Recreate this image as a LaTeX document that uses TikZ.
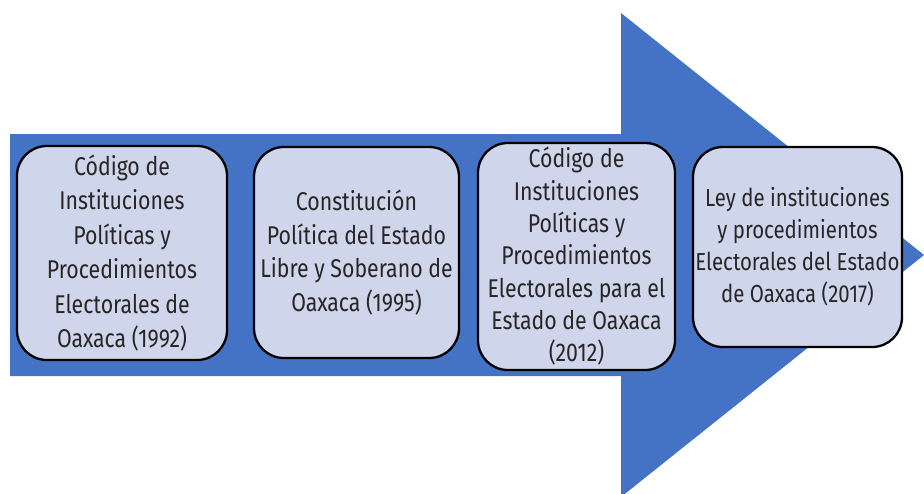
\documentclass[tikz,border=0pt]{standalone}
\usepackage{fontspec}
\setmainfont[FakeStretch=0.83]{Fira Sans}
\usepackage{tikz}
\definecolor{arrowblue}{HTML}{4472C4}
\definecolor{boxfill}{HTML}{CFD5EA}
\definecolor{ink}{HTML}{262626}
\tikzset{
  bigarrow/.style={fill=arrowblue, draw=none},
  law/.style={draw=black, fill=boxfill, line width=1.3pt, rounded corners=17pt,
    align=center, text=ink, inner sep=0pt,
    font=\fontsize{14.6}{18.4}\selectfont}
}
\begin{document}
\begin{tikzpicture}[x=0.02cm, y=-0.02cm]
\useasboundingbox (0,0) rectangle (924,494);
% the big arrow
\coordinate (S1) at (10,134);
\coordinate (S2) at (621,134);
\coordinate (H1) at (621,13);
\coordinate (T) at (924,255);
\coordinate (H2) at (621,497);
\coordinate (S3) at (621,376);
\coordinate (S4) at (10,376);
\fill[bigarrow] (S1)--(S2)--(H1)--(T)--(H2)--(S3)--(S4)--cycle;

% the four laws
\node[law, font=\fontsize{14.6}{19.6}\selectfont,
  minimum width=210*0.02cm, minimum height=214*0.02cm] (c1992) at (122,253)
  {Código de\\Instituciones\\Políticas y\\Procedimientos\\Electorales de\\Oaxaca (1992)};
\node[law, font=\fontsize{14.6}{19.2}\selectfont,
  minimum width=205*0.02cm, minimum height=211*0.02cm] (c1995) at (356.5,252.5)
  {Constitución\\Política del Estado\\Libre y Soberano de\\Oaxaca (1995)};
\node[law, minimum width=197*0.02cm, minimum height=227*0.02cm] (c2012) at (576.5,256.5)
  {Código de\\Instituciones\\Políticas y\\Procedimientos\\Electorales para el\\Estado de Oaxaca\\(2012)};
\node[law, font=\fontsize{14}{18.2}\selectfont,
  minimum width=209*0.02cm, minimum height=200*0.02cm] (c2017) at (797.5,247)
  {Ley de instituciones\\y procedimientos\\Electorales del Estado\\de Oaxaca (2017)};
\end{tikzpicture}
\end{document}
